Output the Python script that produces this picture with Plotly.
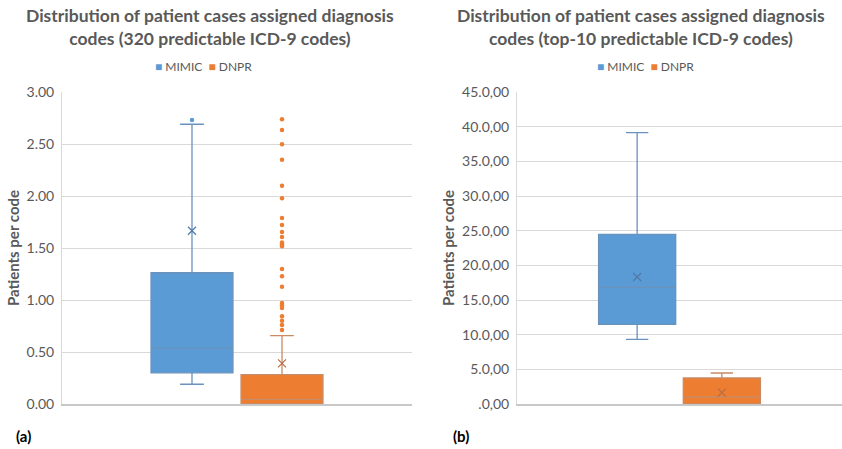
import plotly.graph_objects as go

# ---- data -------------------------------------------------------------
series_names = ["MIMIC", "DNPR"]
series_colors = ["#5B9BD5", "#ED7D31"]
series_lines = ["#6a92bd", "#c98b66"]
mean_colors = ["#4f79a8", "#b86c42"]

# (a) 320 predictable ICD-9 codes
a_lower = [0.19, 0.00]
a_q1 = [0.30, 0.00]
a_median = [0.535, 0.045]
a_q3 = [1.262, 0.282]
a_upper = [2.69, 0.657]
a_mean = [1.666, 0.391]
a_mimic_outliers = [2.73]
a_dnpr_outliers = [2.737, 2.635, 2.497, 2.349, 2.099, 1.978, 1.788, 1.721,
                   1.654, 1.606, 1.554, 1.535, 1.516, 1.298, 1.228, 1.128,
                   0.971, 0.949, 0.923, 0.843, 0.801, 0.760, 0.712]

# (b) top-10 predictable ICD-9 codes
b_lower = [9.33, 0.00]
b_q1 = [11.49, 0.00]
b_median = [16.83, 1.01]
b_q3 = [24.47, 3.75]
b_upper = [39.13, 4.47]
b_mean = [18.32, 1.63]

a_ticks = [0, 0.5, 1.0, 1.5, 2.0, 2.5, 3.0]
b_ticks = [0, 5, 10, 15, 20, 25, 30, 35, 40, 45]
b_ticktext = [".0,00", "5.0,00", "10.0,00", "15.0,00", "20.0,00",
              "25.0,00", "30.0,00", "35.0,00", "40.0,00", "45.0,00"]

positions = [0, 1]

FONT = "Lato"
GRAY = "#595959"

fig = go.Figure()


def add_boxes(lower, q1, med, q3, upper, mean, xa, ya):
    for i, name in enumerate(series_names):
        fig.add_trace(go.Box(
            name=name, x=[positions[i]],
            lowerfence=[lower[i]], q1=[q1[i]], median=[med[i]],
            q3=[q3[i]], upperfence=[upper[i]],
            width=0.91, whiskerwidth=0.29,
            fillcolor=series_colors[i],
            line=dict(color=series_lines[i], width=1.3),
            boxpoints=False, xaxis=xa, yaxis=ya, showlegend=False,
            hoverinfo="skip",
        ))
    fig.add_trace(go.Scatter(
        x=positions, y=mean, mode="markers", xaxis=xa, yaxis=ya,
        showlegend=False, hoverinfo="skip",
        marker=dict(symbol="x-thin", size=8,
                    line=dict(width=1.2, color=mean_colors)),
    ))


add_boxes(a_lower, a_q1, a_median, a_q3, a_upper, a_mean, "x", "y")
add_boxes(b_lower, b_q1, b_median, b_q3, b_upper, b_mean, "x2", "y2")

# outlier points of panel (a)
fig.add_trace(go.Scatter(
    x=[positions[0]] * len(a_mimic_outliers), y=a_mimic_outliers,
    mode="markers", xaxis="x", yaxis="y", showlegend=False,
    marker=dict(size=4.5, color=series_colors[0]), hoverinfo="skip"))
fig.add_trace(go.Scatter(
    x=[positions[1]] * len(a_dnpr_outliers), y=a_dnpr_outliers,
    mode="markers", xaxis="x", yaxis="y", showlegend=False,
    marker=dict(size=4.5, color=series_colors[1]), hoverinfo="skip"))

W, H = 842, 449
ydom = [45 / H, 357 / H]

xaxis_common = dict(showticklabels=False, showgrid=False, zeroline=False,
                    showline=True, linecolor="#c8c8c8", linewidth=1.5,
                    ticks="", fixedrange=True, automargin=False)
yaxis_common = dict(showgrid=True, gridcolor="#d9d9d9", gridwidth=1,
                    zeroline=False, showline=True, linecolor="#d9d9d9",
                    ticks="", automargin=False, ticklabelstandoff=4,
                    tickfont=dict(family=FONT, size=14, color=GRAY),
                    title=dict(text="<b>Patients per code</b>", standoff=3,
                               font=dict(family=FONT, size=15, color=GRAY)))

# legend row drawn as text with coloured square glyphs
legend_text = "  ".join(
    f'<span style="color:{c}">■</span> {n}'
    for n, c in zip(series_names, series_colors))

fig.update_layout(
    width=W, height=H,
    margin=dict(l=0, r=0, t=0, b=0, pad=0),
    paper_bgcolor="white", plot_bgcolor="white",
    boxmode="overlay",
    showlegend=False,
    font=dict(family=FONT, color=GRAY),
    xaxis=dict(domain=[62 / W, 412 / W], range=[-1.444, 2.444], **xaxis_common),
    xaxis2=dict(domain=[517 / W, 1.0], range=[-1.418, 2.418], anchor="y2",
                **xaxis_common),
    yaxis=dict(domain=ydom, range=[0, 3], tickvals=a_ticks, tickformat=".2f",
               anchor="x", **yaxis_common),
    yaxis2=dict(domain=ydom, range=[0, 45], tickvals=b_ticks,
                ticktext=b_ticktext, anchor="x2", **yaxis_common),
    annotations=[
        dict(text="<b>Distribution of patient cases assigned diagnosis<br>"
                  "codes (320 predictable ICD-9 codes)</b>",
             x=210 / W, y=1 - 27 / H, xref="paper", yref="paper",
             xanchor="center", yanchor="middle", showarrow=False,
             font=dict(family=FONT, size=17.5, color=GRAY)),
        dict(text="<b>Distribution of patient cases assigned diagnosis<br>"
                  "codes (top-10 predictable ICD-9 codes)</b>",
             x=641 / W, y=1 - 27 / H, xref="paper", yref="paper",
             xanchor="center", yanchor="middle", showarrow=False,
             font=dict(family=FONT, size=17.5, color=GRAY)),
        dict(text=legend_text, x=203 / W, y=1 - 66 / H, xref="paper",
             yref="paper", xanchor="center", yanchor="middle",
             showarrow=False, font=dict(family=FONT, size=12, color=GRAY)),
        dict(text=legend_text, x=645 / W, y=1 - 66 / H, xref="paper",
             yref="paper", xanchor="center", yanchor="middle",
             showarrow=False, font=dict(family=FONT, size=12, color=GRAY)),
        dict(text="<b>(a)</b>", x=23 / W, y=1 - 436 / H, xref="paper",
             yref="paper", xanchor="center", yanchor="middle",
             showarrow=False, font=dict(family=FONT, size=15, color="black")),
        dict(text="<b>(b)</b>", x=461 / W, y=1 - 436 / H, xref="paper",
             yref="paper", xanchor="center", yanchor="middle",
             showarrow=False, font=dict(family=FONT, size=15, color="black")),
    ],
)

fig.write_html("out.html")
